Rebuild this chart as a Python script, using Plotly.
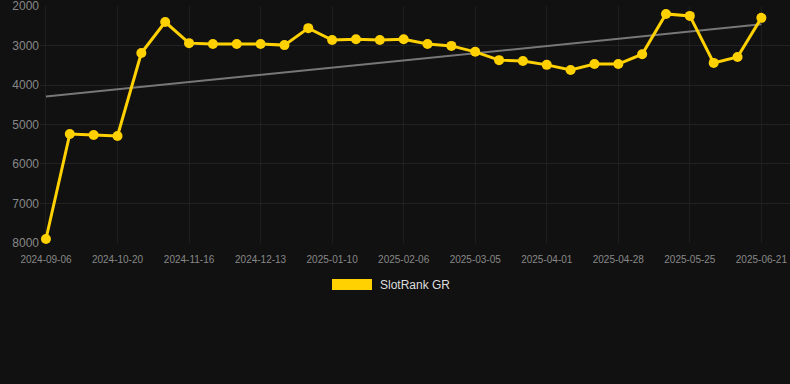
import numpy as np
import plotly.graph_objects as go

dates = ["2024-09-06", "2024-09-21", "2024-10-05", "2024-10-20", "2024-10-29", "2024-11-07",
         "2024-11-16", "2024-11-25", "2024-12-04", "2024-12-13", "2024-12-22", "2025-01-01",
         "2025-01-10", "2025-01-19", "2025-01-28", "2025-02-06", "2025-02-15", "2025-02-24",
         "2025-03-05", "2025-03-14", "2025-03-23", "2025-04-01", "2025-04-10", "2025-04-19",
         "2025-04-28", "2025-05-07", "2025-05-16", "2025-05-25", "2025-06-03", "2025-06-12",
         "2025-06-21"]
rank = [7900, 5240, 5265, 5290, 3190, 2405, 2940, 2960, 2960, 2960, 2990, 2560,
        2860, 2840, 2860, 2840, 2960, 3010, 3160, 3370, 3390, 3490, 3620, 3470,
        3470, 3220, 2200, 2250, 3440, 3290, 2300]
y_ticks = [2000, 3000, 4000, 5000, 6000, 7000, 8000]
series_name = "SlotRank GR"

idx = np.arange(len(rank))
slope, intercept = np.polyfit(idx, rank, 1)
trend = slope * idx + intercept

fig = go.Figure()
fig.add_trace(go.Scatter(x=idx, y=trend, mode="lines",
                         line=dict(color="#777777", width=2), hoverinfo="skip", showlegend=False))
fig.add_trace(go.Scatter(x=idx, y=rank, mode="lines+markers", name=series_name,
                         line=dict(color="#FFD100", width=3),
                         marker=dict(color="#FFD100", size=10), showlegend=False,
                         cliponaxis=False))

tick_idx = list(range(0, len(dates), 3))
fig.update_layout(
    width=790, height=384,
    paper_bgcolor="#111111", plot_bgcolor="#111111",
    margin=dict(l=40, r=0, t=6, b=141),
    xaxis=dict(range=[-0.25, 31.2], tickmode="array", tickvals=tick_idx,
               ticktext=[dates[i] for i in tick_idx],
               showgrid=True, gridcolor="#1e1e1e", gridwidth=1, zeroline=False,
               tickfont=dict(family="Arial, Liberation Sans", size=10, color="#888888"),
               ticks="outside", ticklen=7, tickcolor="rgba(0,0,0,0)", showline=False),
    yaxis=dict(range=[8000.5, 1999.5], tickvals=y_ticks,
               showgrid=True, gridcolor="#222222", gridwidth=1, zeroline=False,
               tickfont=dict(family="Arial, Liberation Sans", size=12, color="#888888"),
               ticks="", ticklen=0, showline=False, ticklabeloverflow="allow"),
    shapes=[dict(type="rect", xref="paper", yref="paper",
                 x0=(332 - 40) / 750, x1=(372 - 40) / 750,
                 y0=(243 - 290) / 237, y1=(243 - 279) / 237,
                 fillcolor="#FFD100", line=dict(width=0))],
    annotations=[dict(text=series_name, xref="paper", yref="paper",
                      x=(378 - 40) / 750, y=(243 - 284.5) / 237, xanchor="left", yanchor="middle",
                      showarrow=False,
                      font=dict(family="Arial, Liberation Sans", size=12, color="#dddddd"))],
)
fig.write_html("out.html", config={"displayModeBar": False},
               post_script="document.body.style.margin='0';document.body.style.background='#111111';")
